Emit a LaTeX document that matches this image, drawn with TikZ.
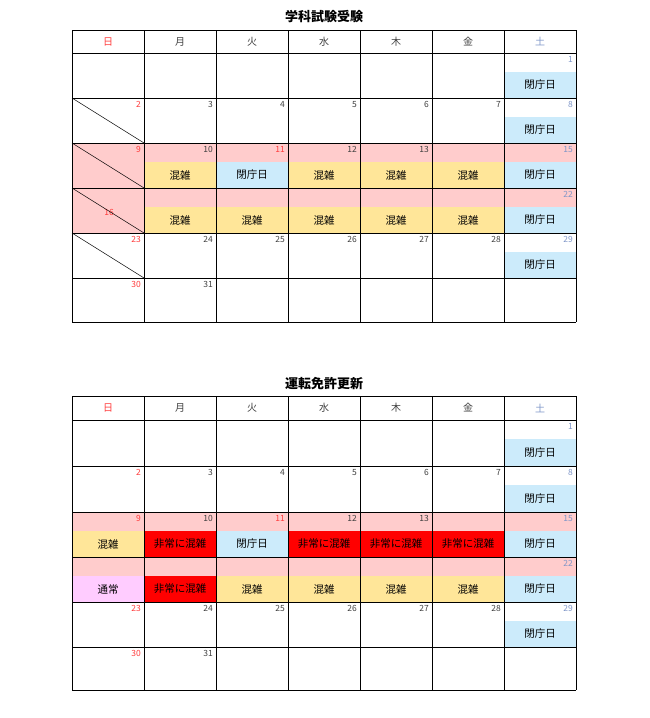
\documentclass[tikz,border=0pt]{standalone}
\usepackage{fontspec}
\setmainfont{Noto Sans CJK JP}
\definecolor{pk}{HTML}{FFCCCC}
\definecolor{yl}{HTML}{FFE699}
\definecolor{bl}{HTML}{CCEBFB}
\definecolor{rd}{HTML}{FF0000}
\definecolor{vi}{HTML}{FFCCFF}
\definecolor{sun}{HTML}{FF3B3B}
\definecolor{sat}{HTML}{7F96C8}
\definecolor{wk}{HTML}{404040}
\newcommand\dt[4]{\node[font=\fontsize{8.5}{9}\selectfont,text=#4,anchor=north east,inner sep=0pt] at ({72*#1+141},{#2+3}) {#3};}
\newcommand\lb[5]{\fill[#4] ({72*#1+72},{#2+19}) rectangle ({72*#1+144},#3); \node[font=\fontsize{10.5}{11}\selectfont,text=black] at ({72*#1+108},{(#2+19+#3)/2}) {#5};}
\newcommand\pkrow[2]{\fill[pk] (72,#1) rectangle (576,#2);}
\newcommand\grid[3]{%
 \foreach \xx in {72,144,...,576} \draw[line width=0.7pt] (\xx,#1) -- (\xx,#3);
 \foreach \yy in {#2} \draw[line width=0.7pt] (72,\yy) -- (576,\yy);}
\newcommand\hdr[1]{%
 \foreach \t/\c [count=\i from 0] in {日/sun,月/wk,火/wk,水/wk,木/wk,金/wk,土/sat}
  \node[font=\fontsize{10}{11}\selectfont,text=\c] at ({72*\i+108},#1) {\t};}
\begin{document}
\begin{tikzpicture}[x=1pt,y=-1pt]
\useasboundingbox (0,0) rectangle (649,718);
% ---------- table 1
\node[font=\fontsize{13}{14}\selectfont\bfseries] (t1) at (324,17) {学科試験受験};
\pkrow{143}{233}
\hdr{41.5}
\dt{6}{53}{1}{sat}\lb{6}{53}{98}{bl}{閉庁日}
\dt{0}{98}{2}{sun}\dt{1}{98}{3}{wk}\dt{2}{98}{4}{wk}\dt{3}{98}{5}{wk}\dt{4}{98}{6}{wk}\dt{5}{98}{7}{wk}\dt{6}{98}{8}{sat}\lb{6}{98}{143}{bl}{閉庁日}
\dt{0}{143}{9}{sun}\dt{1}{143}{10}{wk}\dt{2}{143}{11}{sun}\dt{3}{143}{12}{wk}\dt{4}{143}{13}{wk}\dt{6}{143}{15}{sat}
\lb{1}{143}{188}{yl}{混雑}\lb{2}{143}{188}{bl}{閉庁日}\lb{3}{143}{188}{yl}{混雑}\lb{4}{143}{188}{yl}{混雑}\lb{5}{143}{188}{yl}{混雑}\lb{6}{143}{188}{bl}{閉庁日}
\node[font=\fontsize{8.5}{9}\selectfont,text=sun] at (109,212) {16};
\dt{6}{188}{22}{sat}
\lb{1}{188}{233}{yl}{混雑}\lb{2}{188}{233}{yl}{混雑}\lb{3}{188}{233}{yl}{混雑}\lb{4}{188}{233}{yl}{混雑}\lb{5}{188}{233}{yl}{混雑}\lb{6}{188}{233}{bl}{閉庁日}
\dt{0}{233}{23}{sun}\dt{1}{233}{24}{wk}\dt{2}{233}{25}{wk}\dt{3}{233}{26}{wk}\dt{4}{233}{27}{wk}\dt{5}{233}{28}{wk}\dt{6}{233}{29}{sat}\lb{6}{233}{278}{bl}{閉庁日}
\dt{0}{278}{30}{sun}\dt{1}{278}{31}{wk}
\foreach \a/\b in {98/143,143/188,188/233,233/278} \draw[line width=0.5pt] (72,\a) -- (144,\b);
\grid{30}{30,53,98,143,188,233,278,322}{322}
% ---------- table 2
\node[font=\fontsize{13}{14}\selectfont\bfseries] (t2) at (324,384) {運転免許更新};
\pkrow{512}{602}
\hdr{408}
\dt{6}{420}{1}{sat}\lb{6}{420}{466}{bl}{閉庁日}
\dt{0}{466}{2}{sun}\dt{1}{466}{3}{wk}\dt{2}{466}{4}{wk}\dt{3}{466}{5}{wk}\dt{4}{466}{6}{wk}\dt{5}{466}{7}{wk}\dt{6}{466}{8}{sat}\lb{6}{466}{512}{bl}{閉庁日}
\dt{0}{512}{9}{sun}\dt{1}{512}{10}{wk}\dt{2}{512}{11}{sun}\dt{3}{512}{12}{wk}\dt{4}{512}{13}{wk}\dt{6}{512}{15}{sat}
\lb{0}{512}{557}{yl}{混雑}\lb{1}{512}{557}{rd}{非常に混雑}\lb{2}{512}{557}{bl}{閉庁日}\lb{3}{512}{557}{rd}{非常に混雑}\lb{4}{512}{557}{rd}{非常に混雑}\lb{5}{512}{557}{rd}{非常に混雑}\lb{6}{512}{557}{bl}{閉庁日}
\dt{6}{557}{22}{sat}
\lb{0}{557}{602}{vi}{通常}\lb{1}{557}{602}{rd}{非常に混雑}\lb{2}{557}{602}{yl}{混雑}\lb{3}{557}{602}{yl}{混雑}\lb{4}{557}{602}{yl}{混雑}\lb{5}{557}{602}{yl}{混雑}\lb{6}{557}{602}{bl}{閉庁日}
\dt{0}{602}{23}{sun}\dt{1}{602}{24}{wk}\dt{2}{602}{25}{wk}\dt{3}{602}{26}{wk}\dt{4}{602}{27}{wk}\dt{5}{602}{28}{wk}\dt{6}{602}{29}{sat}\lb{6}{602}{647}{bl}{閉庁日}
\dt{0}{647}{30}{sun}\dt{1}{647}{31}{wk}
\grid{396}{396,420,466,512,557,602,647,690}{690}
\end{tikzpicture}
\end{document}
